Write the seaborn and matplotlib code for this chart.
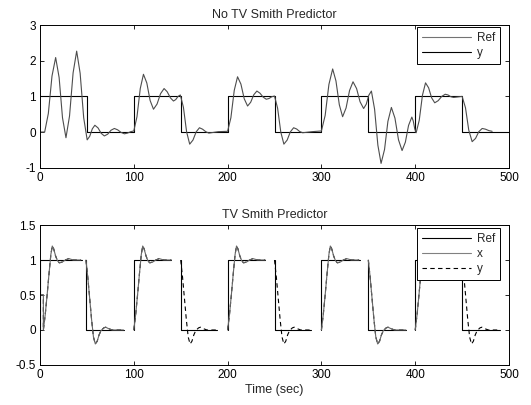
import numpy as np
import pandas as pd
import matplotlib
matplotlib.use('Agg')
import matplotlib.pyplot as plt
from matplotlib.lines import Line2D
import seaborn as sns

sns.set_style('ticks')
plt.rcParams['font.family'] = ['Liberation Sans', 'DejaVu Sans']
plt.rcParams['axes.unicode_minus'] = False

# ---- top panel: No TV Smith Predictor ----
ref_top_t = [0, 50, 50, 100, 100, 150, 150, 200, 200, 250, 250, 300, 300, 350, 350,
             400, 400, 450, 450, 500]
ref_top_v = [1, 1, 0, 0, 1, 1, 0, 0, 1, 1, 0, 0, 1, 1, 0, 0, 1, 1, 0, 0]

y_top_t = [0, 5, 8.9, 12.8, 16.7, 20.4, 24.0, 27.7, 31.5, 35.3, 39.1, 42.8, 46.6, 50.3,
           53.0, 55.8, 58.5, 61.9, 65.2, 68.6, 72.2, 75.7, 79.3, 82.9, 86.4, 90, 93.3,
           96.7, 100, 103.4, 106.9, 110.3, 113.9, 117.4, 121, 124.8, 128.5, 132.3,
           135.6, 139.0, 142.3, 144.7, 147.2, 149.6, 152.9, 156.3, 159.6, 163.1, 166.5,
           170, 173.3, 176.7, 180, 190, 200, 203.5, 207.1, 210.6, 214.2, 217.7, 221.3,
           224.6, 227.9, 231.2, 234.5, 237.9, 241.2, 244.1, 247.1, 250, 253.3, 256.7,
           260, 263.5, 266.9, 270.4, 273.6, 276.8, 280, 290, 300, 304, 308, 312, 315.5,
           319.1, 322.6, 326.3, 330.0, 333.7, 337.5, 341.2, 345, 347.8, 350.5, 353.3,
           356.7, 360.2, 363.6, 367.3, 370.9, 374.6, 378.4, 382.2, 386, 389.5, 392.9,
           396.4, 397.9, 399.5, 401, 404.3, 407.7, 411, 414.3, 417.5, 420.8, 424.5,
           428.3, 432, 435, 438, 441, 450, 453.6, 457.1, 460.7, 464.3, 467.8, 471.4,
           474.9, 478.5, 482]
y_top_v = [0, 0, 0.52, 1.57, 2.09, 1.53, 0.40, -0.16, 0.45, 1.66, 2.27, 1.65, 0.40, -0.22,
           -0.12, 0.09, 0.19, 0.115, -0.035, -0.11, -0.06, 0.05, 0.10, 0.06, -0.01, -0.05,
           -0.03, 0.01, 0.03, 0.43, 1.22, 1.62, 1.375, 0.885, 0.64, 0.785, 1.075, 1.22,
           1.13, 0.96, 0.87, 0.91, 1.0, 1.04, 0.695, 0.005, -0.34, -0.225, 0.005, 0.12,
           0.08, 0.01, -0.03, 0.01, 0.02, 0.40, 1.17, 1.55, 1.345, 0.935, 0.73, 0.835,
           1.045, 1.15, 1.09, 0.98, 0.92, 0.94, 0.99, 1.01, 0.67, 0.0, -0.34, -0.225,
           0.005, 0.12, 0.085, 0.015, -0.02, 0.01, 0.03, 0.465, 1.335, 1.77, 1.435, 0.765,
           0.43, 0.675, 1.165, 1.41, 1.22, 0.85, 0.66, 0.78, 1.03, 1.15, 0.64, -0.37,
           -0.88, -0.49, 0.30, 0.69, 0.39, -0.22, -0.52, -0.285, 0.185, 0.42, 0.31, 0.09,
           -0.02, 0.33, 1.03, 1.38, 1.24, 0.96, 0.82, 0.88, 1.0, 1.06, 1.04, 0.99, 0.97,
           1.0, 0.68, 0.05, -0.27, -0.18, 0.01, 0.10, 0.08, 0.04, 0.02]

# ---- bottom panel: TV Smith Predictor ----
seg_start = [0, 49, 100, 150, 200, 250, 300, 350, 400, 450]
seg_end = [45, 90, 140, 189, 240, 289, 341, 390, 440, 490]
seg_up = [True, False, True, False, True, False, True, False, True, False]
seg_has_x = [True, True, True, False, True, False, True, True, True, False]
first_delay = 3.6
first_init = 0.5

# response shapes (time after the step, value)
up_dt = [0, 2, 4, 6, 8, 9.5, 11, 13, 15, 17, 20, 23.5, 27, 32, 40]
up_v = [0.0, 0.22, 0.5, 0.8, 1.08, 1.2, 1.16, 1.06, 0.99, 0.96, 0.97, 1.0, 1.02, 1.0, 1.0]
down_dt = [0, 2, 4, 6, 8, 10, 12, 14, 16, 19, 21, 24, 28, 33, 40]
down_v = [1.0, 0.75, 0.45, 0.15, -0.1, -0.2, -0.16, -0.07, -0.01, 0.03, 0.04, 0.02, 0.0,
          0.0, 0.0]

rows_ref, rows_x, rows_y = [], [], []
for i, (t0, t1, up) in enumerate(zip(seg_start, seg_end, seg_up)):
    lo, hi = (0, 1) if up else (1, 0)
    rows_ref += [(t0, lo, i), (t0, hi, i), (t1, hi, i)]
    pts = []
    shift = t0
    if i == 0:
        pts += [(0, first_init), (first_delay, first_init)]
        shift = first_delay
    dts, vs = (up_dt, up_v) if up else (down_dt, down_v)
    pts += [(shift + d, v) for d, v in zip(dts, vs)]
    rows_y += [(t, v, i) for t, v in pts]
    if seg_has_x[i]:
        rows_x += [(t, v, i) for t, v in pts]

df_ref = pd.DataFrame(rows_ref, columns=['t', 'v', 'seg'])
df_x = pd.DataFrame(rows_x, columns=['t', 'v', 'seg'])
df_y = pd.DataFrame(rows_y, columns=['t', 'v', 'seg'])

fig = plt.figure(figsize=(5.31, 4.05), dpi=100)
ax1 = fig.add_axes([0.0753, 0.586, 0.8833, 0.352])
ax2 = fig.add_axes([0.0753, 0.0988, 0.8833, 0.3456])

lw = 0.8
sns.lineplot(x=ref_top_t, y=ref_top_v, sort=False, estimator=None, color='black',
             lw=lw, ax=ax1, legend=False)
sns.lineplot(x=y_top_t, y=y_top_v, sort=False, estimator=None, color='0.3',
             lw=lw, ax=ax1, legend=False)

# y (dashed) underneath, x (solid grey) on top where both exist
sns.lineplot(data=df_ref, x='t', y='v', units='seg', estimator=None, sort=False,
             color='black', lw=lw, ax=ax2, legend=False)
sns.lineplot(data=df_y, x='t', y='v', units='seg', estimator=None, sort=False,
             color='black', lw=lw, ls=(0, (4, 3)), ax=ax2, legend=False)
sns.lineplot(data=df_x, x='t', y='v', units='seg', estimator=None, sort=False,
             color='0.4', lw=lw, ax=ax2, legend=False)

for ax in (ax1, ax2):
    ax.set_xlim(0, 500)
    ax.set_xticks([0, 100, 200, 300, 400, 500])
    ax.set_xticklabels(['0', '100', '200', '300', '400', '500'])
    ax.tick_params(direction='in', top=True, right=True, length=3, width=0.6,
                   labelsize=8.5, pad=3, color='black', labelcolor='black')
    for s in ax.spines.values():
        s.set_linewidth(0.7)
        s.set_color('black')
    ax.set_ylabel('')
    ax.set_xlabel('')

ax1.set_ylim(-1, 3)
ax1.set_yticks([-1, 0, 1, 2, 3])
ax1.set_yticklabels(['-1', '0', '1', '2', '3'])
ax1.set_title('No TV Smith Predictor', fontsize=9, pad=5)

ax2.set_ylim(-0.5, 1.5)
ax2.set_yticks([-0.5, 0, 0.5, 1, 1.5])
ax2.set_yticklabels(['-0.5', '0', '0.5', '1', '1.5'])
ax2.set_title('TV Smith Predictor', fontsize=9, pad=5)
ax2.set_xlabel('Time (sec)', fontsize=9, labelpad=2)

leg_kw = dict(loc='upper right', fontsize=8.5, frameon=True, fancybox=False,
              framealpha=1, edgecolor='black', handlelength=4.2, handletextpad=0.5,
              labelspacing=0.25, borderpad=0.4, borderaxespad=0)
h1 = [Line2D([], [], color='0.45', lw=lw), Line2D([], [], color='black', lw=lw)]
l1 = ax1.legend(h1, ['Ref', 'y'], bbox_to_anchor=(0.981, 0.984), **leg_kw)
l1.get_frame().set_linewidth(0.7)
h2 = [Line2D([], [], color='black', lw=lw), Line2D([], [], color='0.5', lw=lw),
      Line2D([], [], color='black', lw=lw, ls=(0, (4, 3)))]
l2 = ax2.legend(h2, ['Ref', 'x', 'y'], bbox_to_anchor=(0.981, 0.976), **leg_kw)
l2.get_frame().set_linewidth(0.7)

fig.savefig('out.png', dpi=100)
